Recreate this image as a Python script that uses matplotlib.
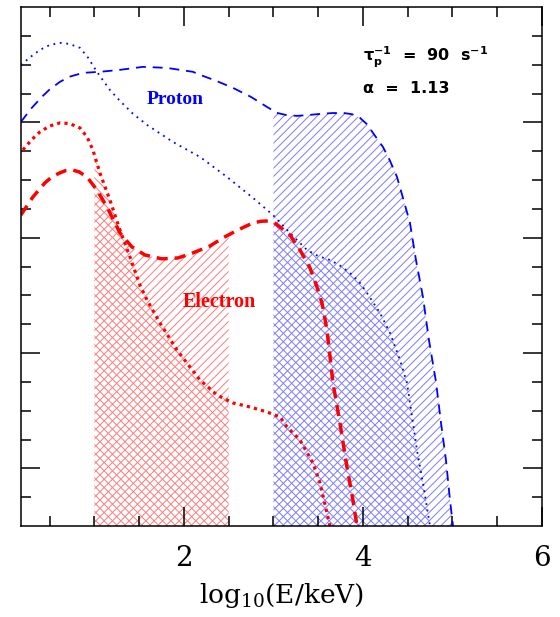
import numpy as np
import matplotlib
matplotlib.use('Agg')
import matplotlib.pyplot as plt

plt.rcParams['mathtext.default'] = 'regular'
plt.rcParams['hatch.linewidth'] = 0.7

# proton spectra (y in arbitrary log units)
p_dash_x = np.array([0.179, 0.30, 0.413, 0.50, 0.615, 0.72, 0.872, 1.061, 1.285, 1.542,
                     1.810, 2.101, 2.179, 2.36, 2.547, 2.75, 2.927, 3.039, 3.15, 3.263,
                     3.40, 3.520, 3.65, 3.777, 3.88, 3.966, 4.05, 4.112, 4.223, 4.30,
                     4.380, 4.469, 4.525, 4.592, 4.670, 4.737, 4.816, 4.872, 4.927, 4.972, 5.006])
p_dash_y = np.array([3.504, 3.625, 3.721, 3.785, 3.851, 3.895, 3.929, 3.938, 3.955, 3.981,
                     3.972, 3.938, 3.912, 3.86, 3.799, 3.72, 3.634, 3.582, 3.562, 3.556,
                     3.564, 3.573, 3.580, 3.582, 3.570, 3.539, 3.48, 3.408, 3.287, 3.17,
                     3.027, 2.784, 2.628, 2.307, 1.986, 1.613, 1.249, 0.893, 0.572, 0.225, 0.0])

p_dot_x = np.array([0.179, 0.30, 0.391, 0.50, 0.615, 0.72, 0.838, 0.93, 1.028, 1.173,
                    1.285, 1.43, 1.587, 1.877, 2.179, 2.480, 2.771, 2.994, 3.184, 3.374,
                    3.50, 3.631, 3.75, 3.855, 3.96, 4.045, 4.190, 4.302, 4.413, 4.492,
                    4.559, 4.603, 4.670, 4.749])
p_dot_y = np.array([3.998, 4.075, 4.128, 4.170, 4.189, 4.180, 4.146, 4.060, 3.938, 3.781,
                    3.686, 3.575, 3.478, 3.330, 3.200, 3.027, 2.845, 2.697, 2.541, 2.394,
                    2.340, 2.307, 2.255, 2.194, 2.115, 2.021, 1.847, 1.674, 1.440, 1.240,
                    0.893, 0.659, 0.373, 0.0])

# electron spectra
e_dash_x = np.array([0.179, 0.313, 0.447, 0.53, 0.615, 0.68, 0.749, 0.83, 0.916, 1.028,
                     1.140, 1.285, 1.419, 1.564, 1.754, 1.933, 2.101, 2.291, 2.436, 2.603,
                     2.771, 2.86, 2.939, 3.01, 3.073, 3.184, 3.296, 3.408, 3.486, 3.542,
                     3.598, 3.665, 3.743, 3.821, 3.888, 3.933])
e_dash_y = np.array([2.697, 2.853, 2.975, 3.030, 3.062, 3.082, 3.088, 3.070, 3.027, 2.914,
                     2.767, 2.541, 2.420, 2.350, 2.316, 2.324, 2.368, 2.428, 2.498, 2.567,
                     2.628, 2.642, 2.645, 2.630, 2.593, 2.524, 2.394, 2.238, 2.073, 1.934,
                     1.700, 1.240, 0.893, 0.512, 0.225, 0.0])

e_dot_x = np.array([0.201, 0.30, 0.391, 0.50, 0.615, 0.72, 0.838, 0.92, 0.983, 1.061,
                    1.173, 1.285, 1.397, 1.508, 1.587, 1.732, 1.922, 2.179, 2.369, 2.547,
                    2.737, 2.927, 3.073, 3.151, 3.296, 3.441, 3.520, 3.598, 3.631])
e_dot_y = np.array([3.261, 3.350, 3.417, 3.468, 3.495, 3.490, 3.452, 3.370, 3.261, 3.062,
                    2.827, 2.567, 2.333, 2.090, 1.960, 1.761, 1.526, 1.266, 1.136, 1.067,
                    1.032, 0.989, 0.945, 0.859, 0.746, 0.546, 0.373, 0.113, 0.0])

e_band = (1.0, 2.5)
p_band = (3.0, 6.0)


def clip(x, y, lo, hi):
    hi = min(hi, x[-1])
    xs = np.concatenate([[lo], x[(x > lo) & (x < hi)], [hi]])
    return xs, np.interp(xs, x, y)


fig = plt.figure(figsize=(5.6, 6.17), dpi=100)
ax = fig.add_axes([21/560, 1 - 526/617, 521/560, 519/617])

red = '#ff0000'
blue = '#0000ff'

# hatched bands
for x, y, h, c, band in [(e_dash_x, e_dash_y, '////', '#ff7a7a', e_band),
                         (e_dot_x, e_dot_y, '\\\\\\\\', '#ff7a7a', e_band),
                         (p_dash_x, p_dash_y, '////', '#7a7aff', p_band),
                         (p_dot_x, p_dot_y, '\\\\\\\\', '#7a7aff', p_band)]:
    xs, ys = clip(x, y, *band)
    ax.fill_between(xs, 0, ys, facecolor='none', edgecolor=c, hatch=h, linewidth=0)

ax.plot(p_dash_x, p_dash_y, color=blue, lw=1.3, dashes=(5.5, 3.8))
ax.plot(p_dot_x, p_dot_y, color=blue, lw=1.3, dashes=(1, 2.6))
ax.plot(e_dash_x, e_dash_y, color=red, lw=2.5, dashes=(3.2, 2.0))
ax.plot(e_dot_x, e_dot_y, color=red, lw=2.3, dashes=(1, 1.3))

ax.text(1.9, 3.7, 'Proton', color=blue, fontsize=14, fontweight='bold',
        family='Liberation Serif', ha='center', va='center')
ax.text(2.4, 1.94, 'Electron', color=red, fontsize=14.5, fontweight='bold',
        family='Liberation Serif', ha='center', va='center')
ax.text(4.0, 4.06, r'$\tau_p^{-1}$  =  90  s$^{-1}$', fontsize=11.5, fontweight='bold',
        family='DejaVu Sans', ha='left', va='center')
ax.text(4.0, 3.79, 'α  =  1.13', fontsize=11.5, fontweight='bold',
        family='DejaVu Sans', ha='left', va='center')

ax.set_xlim(0.18, 6.0)
ax.set_ylim(0, 4.5)
ax.set_xticks([2, 4, 6])
ax.set_xticks(np.arange(0.5, 6.0, 0.5), minor=True)
ax.set_yticks([0.5, 1.5, 2.5, 3.5])
ax.set_yticks(np.arange(0.25, 4.5, 0.25), minor=True)
ax.tick_params(which='both', direction='in', top=True, right=True, width=1.1,
               labelleft=False)
ax.tick_params(which='major', length=14, pad=14, labelsize=20)
ax.tick_params(which='minor', length=7.5)
for lab in ax.get_xticklabels():
    lab.set_family('DejaVu Serif')
for s in ax.spines.values():
    s.set_linewidth(1.1)

ax.set_xlabel('log$_{10}$(E/keV)', fontsize=19, family='DejaVu Serif', labelpad=6)

fig.savefig('out.png', dpi=100)
